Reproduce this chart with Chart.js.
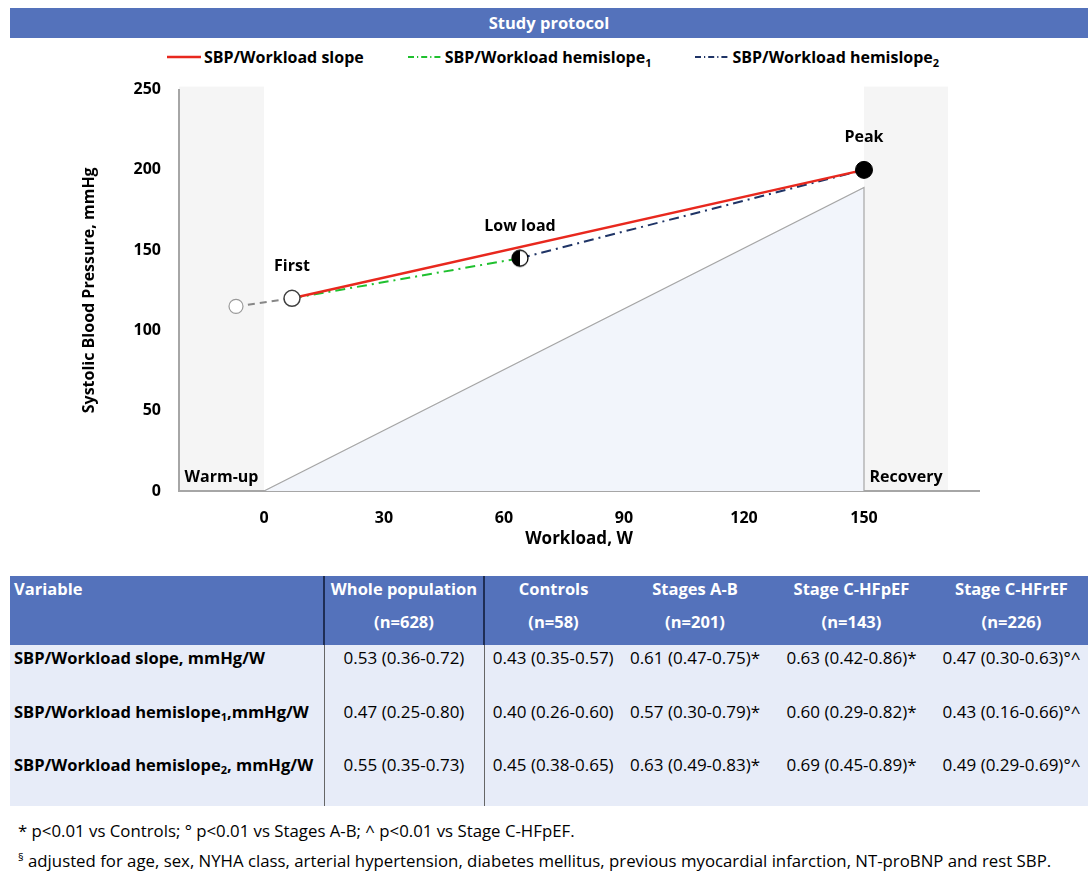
<!DOCTYPE html>
<html>
<head>
<meta charset="utf-8">
<script src="https://cdn.jsdelivr.net/npm/chart.js@4.4.1/dist/chart.umd.min.js"></script>
<style>
  body { margin: 0; width: 1088px; height: 876px; position: relative; overflow: hidden; background: #fff; font-family: "Open Sans", sans-serif; }
  #banner { position: absolute; left: 10px; top: 8px; width: 1078px; height: 30px; line-height: 30px; background: #5472BB; color: #fff; font-weight: bold; font-size: 16.5px; text-align: center; }
  #legend { position: absolute; left: 18px; top: 45px; width: 1070px; height: 24px; display: flex; justify-content: center; align-items: center; gap: 44px; font-weight: bold; font-size: 16px; color: #000; }
  #legend .item { display: flex; align-items: center; }
  #legend svg { margin-right: 3px; }
  #legend sub { font-size: 11px; vertical-align: -4px; line-height: 0; }
  #chartBox { position: absolute; left: 0; top: 70px; width: 1088px; height: 490px; }
  table { position: absolute; left: 10px; top: 576px; width: 1078px; border-collapse: collapse; table-layout: fixed; color: #000; }
  th { background: #5472BB; color: #fff; font-weight: bold; font-size: 16.5px; line-height: 33px; padding: 0; vertical-align: top; height: 69px; }
  th div { position: relative; top: -4px; }
  th:first-child { text-align: left; padding-left: 4px; }
  td { background: #E7ECF8; height: 53.7px; vertical-align: top; padding: 2px 0 0 0; line-height: 22px; text-align: center; box-sizing: border-box; font-size: 17px; }
  td:first-child { text-align: left; padding-left: 4px; font-weight: bold; font-size: 16.5px; }
  th.sep { border-left: 2px solid #1F2E55; }
  td.sep { border-left: 1.5px solid #666; }
  td sub, th sub { font-size: 11px; vertical-align: -3px; line-height: 0; }
  .foot { position: absolute; left: 18px; color: #000; white-space: nowrap; font-size: 16.8px; }
  .foot sup { font-size: 11px; vertical-align: 6px; line-height: 0; }
</style>
</head>
<body>
<div id="banner">Study protocol</div>
<div id="legend"></div>
<div id="chartBox"><canvas id="protocolChart"></canvas></div>

<table>
  <colgroup>
    <col style="width:314px"><col style="width:160px"><col style="width:138px"><col style="width:146px"><col style="width:167px"><col style="width:153px">
  </colgroup>
  <thead>
    <tr>
      <th><div>Variable</div></th>
      <th class="sep"><div>Whole population<br>(n=628)</div></th>
      <th class="sep"><div>Controls<br>(n=58)</div></th>
      <th><div>Stages A-B<br>(n=201)</div></th>
      <th><div>Stage C-HFpEF<br>(n=143)</div></th>
      <th><div>Stage C-HFrEF<br>(n=226)</div></th>
    </tr>
  </thead>
  <tbody>
    <tr>
      <td>SBP/Workload slope, mmHg/W</td>
      <td class="sep">0.53 (0.36-0.72)</td>
      <td class="sep">0.43 (0.35-0.57)</td>
      <td>0.61 (0.47-0.75)*</td>
      <td>0.63 (0.42-0.86)*</td>
      <td>0.47 (0.30-0.63)°^</td>
    </tr>
    <tr>
      <td>SBP/Workload hemislope<sub>1</sub>,mmHg/W</td>
      <td class="sep">0.47 (0.25-0.80)</td>
      <td class="sep">0.40 (0.26-0.60)</td>
      <td>0.57 (0.30-0.79)*</td>
      <td>0.60 (0.29-0.82)*</td>
      <td>0.43 (0.16-0.66)°^</td>
    </tr>
    <tr>
      <td>SBP/Workload hemislope<sub>2</sub>, mmHg/W</td>
      <td class="sep">0.55 (0.35-0.73)</td>
      <td class="sep">0.45 (0.38-0.65)</td>
      <td>0.63 (0.49-0.83)*</td>
      <td>0.69 (0.45-0.89)*</td>
      <td>0.49 (0.29-0.69)°^</td>
    </tr>
  </tbody>
</table>

<div class="foot" style="top:819px">* p&lt;0.01 vs Controls; ° p&lt;0.01 vs Stages A-B; ^ p&lt;0.01 vs Stage C-HFpEF.</div>
<div class="foot" style="top:849px"><sup>§</sup> adjusted for age, sex, NYHA class, arterial hypertension, diabetes mellitus, previous myocardial infarction, NT-proBNP and rest SBP.</div>

<script>
// Protocol stages (markers)
const stageLabels = ["", "First", "Low load", "Peak"];
const stageWorkload = [-7, 7, 64, 150];
const stageSbp = [115, 120, 145, 200];

// Slope lines
const slopeWorkload = [7, 150];
const slopeSbp = [120, 200];
const hemi1Workload = [7, 64];
const hemi1Sbp = [120, 145];
const hemi2Workload = [64, 150];
const hemi2Sbp = [145, 200];
const warmupWorkload = [-7, 7];
const warmupSbp = [115, 120];

// Workload ramp (triangle)
const rampWorkload = [0, 150, 150];
const rampSbp = [0, 189, 0];

// Shaded phases
const phaseLabels = ["Warm-up", "Recovery"];
const phaseStart = [-21.25, 150];
const phaseEnd = [0, 171];

// Axis ticks
const xTicks = [0, 30, 60, 90, 120, 150];
const yTicks = [0, 50, 100, 150, 200, 250];

function toPoints(xs, ys) {
  return xs.map((x, i) => ({ x: x, y: ys[i] }));
}

// half filled marker for the low load point
function halfCircle() {
  const c = document.createElement("canvas");
  c.width = 20;
  c.height = 20;
  const g = c.getContext("2d");
  g.beginPath();
  g.arc(10, 10, 8, Math.PI / 2, Math.PI * 1.5);
  g.fillStyle = "#000";
  g.fill();
  g.beginPath();
  g.arc(10, 10, 8, -Math.PI / 2, Math.PI / 2);
  g.fillStyle = "#fff";
  g.fill();
  g.beginPath();
  g.arc(10, 10, 8, 0, Math.PI * 2);
  g.strokeStyle = "#000";
  g.lineWidth = 1.3;
  g.stroke();
  return c;
}

const chartFont = "'Open Sans', sans-serif";

const phasePlugin = {
  id: "phases",
  beforeDraw(chart) {
    const ctx = chart.ctx;
    const x = chart.scales.x;
    const area = chart.chartArea;
    ctx.save();
    ctx.fillStyle = "#F5F5F5";
    phaseLabels.forEach((name, i) => {
      const x0 = x.getPixelForValue(phaseStart[i]);
      const x1 = x.getPixelForValue(phaseEnd[i]);
      ctx.fillRect(x0, area.top - 3, x1 - x0, area.bottom - area.top + 3);
    });
    ctx.restore();
  },
  afterDatasetsDraw(chart) {
    const ctx = chart.ctx;
    const x = chart.scales.x;
    const y = chart.scales.y;
    const area = chart.chartArea;
    ctx.save();
    ctx.fillStyle = "#000";
    ctx.textAlign = "center";
    ctx.textBaseline = "middle";
    ctx.font = "bold 16px " + chartFont;
    phaseLabels.forEach((name, i) => {
      const cx = (x.getPixelForValue(phaseStart[i]) + x.getPixelForValue(phaseEnd[i])) / 2;
      ctx.fillText(name, cx, area.bottom - 14);
    });
    stageLabels.forEach((name, i) => {
      if (!name) return;
      ctx.fillText(name, x.getPixelForValue(stageWorkload[i]), y.getPixelForValue(stageSbp[i]) - 32);
    });
    ctx.restore();
  },
};

const datasets = [
  {
    label: "stages",
    data: toPoints(stageWorkload, stageSbp),
    showLine: false,
    pointStyle: ["circle", "circle", halfCircle(), "circle"],
    pointRadius: [7, 8, 8, 8.5],
    backgroundColor: ["#fff", "#fff", "#000", "#000"],
    borderColor: ["#9A9A9A", "#404040", "#000", "#000"],
    borderWidth: [1.2, 1.5, 1.3, 1],
    order: 0,
  },
  {
    label: "SBP/Workload slope",
    legendText: "SBP/Workload slope",
    data: toPoints(slopeWorkload, slopeSbp),
    showLine: true,
    borderColor: "#E8281E",
    borderWidth: 2.5,
    borderDash: [],
    pointRadius: 0,
    order: 1,
  },
  {
    label: "SBP/Workload hemislope1",
    legendText: "SBP/Workload hemislope<sub>1</sub>",
    data: toPoints(hemi1Workload, hemi1Sbp),
    showLine: true,
    borderColor: "#1FC02E",
    borderWidth: 2,
    borderDash: [10, 5, 2, 5],
    pointRadius: 0,
    order: 2,
  },
  {
    label: "SBP/Workload hemislope2",
    legendText: "SBP/Workload hemislope<sub>2</sub>",
    data: toPoints(hemi2Workload, hemi2Sbp),
    showLine: true,
    borderColor: "#1F3466",
    borderWidth: 2,
    borderDash: [10, 5, 2, 5],
    pointRadius: 0,
    order: 3,
  },
  {
    label: "warm-up",
    data: toPoints(warmupWorkload, warmupSbp),
    showLine: true,
    borderColor: "#878787",
    borderWidth: 2,
    borderDash: [7, 5],
    pointRadius: 0,
    order: 4,
  },
  {
    label: "workload ramp",
    data: toPoints(rampWorkload, rampSbp),
    showLine: true,
    fill: "origin",
    backgroundColor: "#F2F5FB",
    borderColor: "#A6A6A6",
    borderWidth: 1.2,
    pointRadius: 0,
    order: 5,
  },
];

const chart = new Chart(document.getElementById("protocolChart"), {
  type: "scatter",
  data: { datasets: datasets },
  options: {
    responsive: true,
    maintainAspectRatio: false,
    animation: false,
    events: [],
    layout: { padding: { top: 5, right: 109, bottom: 0, left: 0 } },
    plugins: {
      legend: { display: false },
      tooltip: { enabled: false },
    },
    scales: {
      x: {
        type: "linear",
        min: phaseStart[0],
        max: 178.75,
        afterBuildTicks: (scale) => { scale.ticks = xTicks.map((v) => ({ value: v })); },
        afterFit: (scale) => { scale.height = 69; },
        grid: { display: false },
        border: { display: true, color: "#A6A6A6", width: 2 },
        ticks: { color: "#000", font: { family: chartFont, size: 16, weight: "bold" }, padding: 10, maxRotation: 0 },
        title: { display: true, text: "Workload, W", color: "#000", font: { family: chartFont, size: 17, weight: "bold" }, padding: { top: 0, bottom: 11 } },
      },
      y: {
        min: 0,
        max: 250,
        afterBuildTicks: (scale) => { scale.ticks = yTicks.map((v) => ({ value: v })); },
        afterFit: (scale) => { scale.width = 179; },
        grid: { display: false },
        border: { display: true, color: "#A6A6A6", width: 2 },
        ticks: { color: "#000", font: { family: chartFont, size: 16, weight: "bold" }, padding: 10 },
        title: { display: true, text: "Systolic Blood Pressure, mmHg", color: "#000", font: { family: chartFont, size: 16, weight: "bold" }, padding: { top: 80, bottom: 0 } },
      },
    },
  },
  plugins: [phasePlugin],
});

// HTML legend built from the line datasets
const legendBox = document.getElementById("legend");
chart.data.datasets.filter((d) => d.legendText).forEach((d) => {
  const item = document.createElement("div");
  item.className = "item";
  const dash = d.borderDash.length ? d.borderDash.map((v) => v * 0.6).join(" ") : "none";
  item.innerHTML =
    '<svg width="34" height="6"><line x1="0" y1="3" x2="34" y2="3" stroke="' + d.borderColor +
    '" stroke-width="' + d.borderWidth + '" stroke-dasharray="' + dash + '"/></svg><span>' + d.legendText + "</span>";
  legendBox.appendChild(item);
});
</script>
</body>
</html>
